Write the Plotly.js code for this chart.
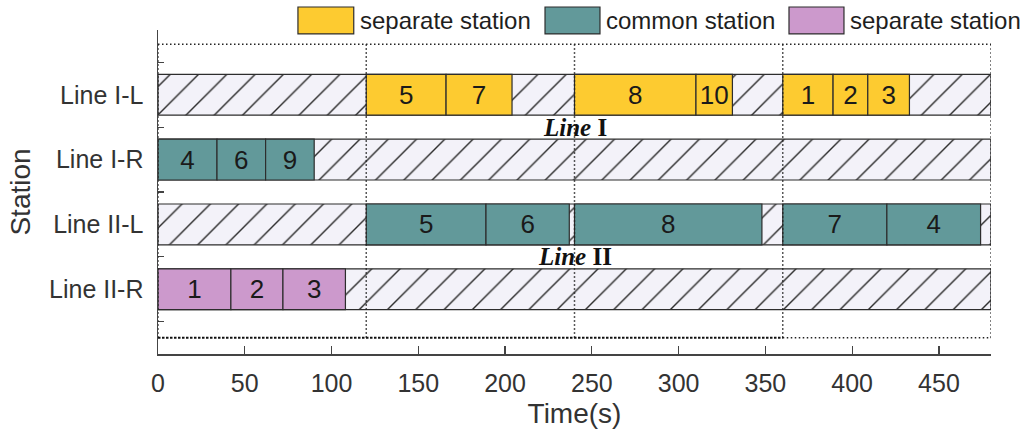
<!DOCTYPE html>
<html><head><meta charset="utf-8">
<script src="https://cdn.plot.ly/plotly-3.0.1.min.js"></script>
<style>html,body{margin:0;padding:0;background:#fff}#chart{width:1025px;height:436px}</style>
</head><body><div id="chart"></div>
<script>
// ---- data ----
const stations = ['Line I-L', 'Line I-R', 'Line II-L', 'Line II-R'];
const stationPos = [4, 3, 2, 1];
const horizon = 480;
const periods = [0, 120, 240, 360, 480];
const xTicks = [0, 50, 100, 150, 200, 250, 300, 350, 400, 450];

// Line I-L (separate station, yellow)
const lineILJobs = ['5', '7', '8', '10', '1', '2', '3'];
const lineILStart = [120, 166, 240, 310, 360, 389, 409];
const lineILEnd = [166, 204, 310, 331, 389, 409, 433];

// Line I-R (common station, teal)
const lineIRJobs = ['4', '6', '9'];
const lineIRStart = [0, 34, 62];
const lineIREnd = [34, 62, 90];

// Line II-L (common station, teal)
const lineIILJobs = ['5', '6', '8', '7', '4'];
const lineIILStart = [120, 189, 240, 360, 420];
const lineIILEnd = [189, 237, 348, 420, 474];

// Line II-R (separate station, pink)
const lineIIRJobs = ['1', '2', '3'];
const lineIIRStart = [0, 42, 72];
const lineIIREnd = [42, 72, 108];

const legendNames = ['separate station', 'common station', 'separate station'];
const colors = ['#fdcb30', '#62999a', '#cc99cc'];
const labelNotes = ['<b><i>Line</i> I</b>', '<b><i>Line</i> II</b>'];
const labelNoteY = [3.5, 1.5];

// ---- build ----
const FONT = 'Liberation Sans, Arial, sans-serif';
const EDGE = '#2d2d2d';
const BARW = 0.63;
const BOX_Y0 = 0.25, BOX_Y1 = 4.78;
const dur = (s, e) => s.map((v, i) => e[i] - v);
const rep = (v, n) => Array(n).fill(v);

const hatch = {
  type: 'bar', orientation: 'h', y: stationPos, x: rep(horizon, 4), base: rep(0, 4),
  width: BARW, showlegend: false, hoverinfo: 'skip',
  marker: { color: '#f3f2f9', line: { color: EDGE, width: 1.2 },
    pattern: { shape: '/', fgcolor: '#2a2a2a', bgcolor: '#f3f2f9', size: 20, solidity: 0.07 } }
};

function jobTrace(yv, jobs, st, en, color, name) {
  return {
    type: 'bar', orientation: 'h', y: rep(yv, jobs.length), x: dur(st, en), base: st,
    width: BARW, text: jobs, textposition: 'inside', insidetextanchor: 'middle', textangle: 0,
    constraintext: 'none', cliponaxis: false,
    textfont: { family: FONT, size: 26, color: '#1a1a1a' },
    marker: { color: color, line: { color: EDGE, width: 1.2 } },
    name: name, showlegend: false, hoverinfo: 'skip'
  };
}

const traces = [
  hatch,
  jobTrace(stationPos[0], lineILJobs, lineILStart, lineILEnd, colors[0], legendNames[0]),
  jobTrace(stationPos[1], lineIRJobs, lineIRStart, lineIREnd, colors[1], legendNames[1]),
  jobTrace(stationPos[2], lineIILJobs, lineIILStart, lineIILEnd, colors[1], legendNames[1]),
  jobTrace(stationPos[3], lineIIRJobs, lineIIRStart, lineIIREnd, colors[2], legendNames[2])
];

const DOT = { color: '#222', width: 1.5, dash: '1.5px,2.5px' };
const shapes = [];
periods.forEach(p => {
  shapes.push({ type: 'line', xref: 'x', yref: 'y', x0: p, x1: p, y0: BOX_Y0, y1: BOX_Y1, line: DOT, layer: 'above' });
});
shapes.push({ type: 'line', xref: 'x', yref: 'y', x0: periods[0], x1: horizon, y0: BOX_Y1, y1: BOX_Y1, line: DOT, layer: 'above' });
shapes.push({ type: 'line', xref: 'x', yref: 'y', x0: periods[3], x1: horizon, y0: BOX_Y0, y1: BOX_Y0, line: DOT, layer: 'above' });
// heavier bottom dotted run over the first three periods
shapes.push({ type: 'line', xref: 'x', yref: 'y', x0: periods[0], x1: periods[3], y0: BOX_Y0, y1: BOX_Y0,
  line: { color: '#111', width: 2, dash: '2.5px,1.5px' }, layer: 'above' });

// legend boxes (paper coords)
const legBoxX = [[0.168, 0.235], [0.4646, 0.5306], [0.7575, 0.8235]];
const annotations = [];
legBoxX.forEach((b, i) => {
  shapes.push({ type: 'rect', xref: 'paper', yref: 'paper', x0: b[0], x1: b[1], y0: 0.988, y1: 1.071,
    fillcolor: colors[i], line: { color: EDGE, width: 1.2 } });
  annotations.push({ xref: 'paper', yref: 'paper', x: b[1] + 0.005, y: 1.030, xanchor: 'left', yanchor: 'middle',
    text: legendNames[i], showarrow: false, font: { family: FONT, size: 24, color: '#1e1e1e' } });
});
labelNotes.forEach((t, i) => {
  annotations.push({ xref: 'x', yref: 'y', x: periods[2], y: labelNoteY[i], text: t, showarrow: false,
    xanchor: 'center', yanchor: 'middle', font: { family: 'Liberation Serif, Times New Roman, serif', size: 25, color: '#111' } });
});

const layout = {
  width: 1025, height: 436,
  margin: { l: 158, r: 34, t: 30, b: 82 },
  paper_bgcolor: '#fff', plot_bgcolor: '#fff',
  barmode: 'overlay', showlegend: false,
  font: { family: FONT, color: '#333' },
  xaxis: {
    range: [0, horizon], tickvals: xTicks, ticks: 'inside', ticklen: 8, tickwidth: 1.2, tickcolor: '#444',
    showline: true, linecolor: '#444', linewidth: 1.5, showgrid: false, zeroline: false,
    tickfont: { family: FONT, size: 25, color: '#333' }, ticklabelstandoff: 6,
    title: { text: 'Time(s)', font: { family: FONT, size: 28, color: '#333' }, standoff: 8 }
  },
  yaxis: {
    range: [0, 5], tickvals: stationPos, ticktext: stations, ticks: '',
    minor: { tick0: 0.5, dtick: 1, ticks: 'inside', ticklen: 6, tickcolor: '#444', tickwidth: 1.2, showgrid: false },
    showline: true, linecolor: '#444', linewidth: 1.5, showgrid: false, zeroline: false,
    tickfont: { family: FONT, size: 25, color: '#333' }, ticklabelstandoff: 8,
    title: { text: 'Station', font: { family: FONT, size: 28, color: '#333' }, standoff: 10 }
  },
  shapes: shapes, annotations: annotations
};

Plotly.newPlot('chart', traces, layout, { staticPlot: true, displayModeBar: false });
</script></body></html>
